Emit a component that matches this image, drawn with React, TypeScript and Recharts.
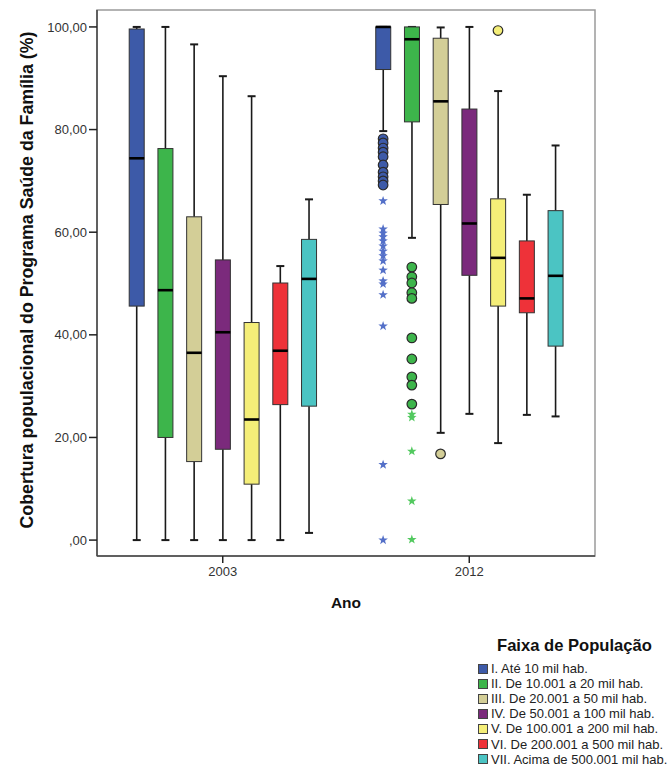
import { ComposedChart, Bar, Scatter, XAxis, YAxis, ReferenceArea } from 'recharts';

const years = ['2003', '2012'];

const faixas = [
  'I. Até 10 mil hab.',
  'II. De 10.001 a 20 mil hab.',
  'III. De 20.001 a 50 mil hab.',
  'IV. De 50.001 a 100 mil hab.',
  'V. De 100.001 a 200 mil hab.',
  'VI. De 200.001 a 500 mil hab.',
  'VII. Acima de 500.001 mil hab.',
];

const COLORS = ['#3D5AA8', '#3DB54B', '#D3CE97', '#7B2A7C', '#F4EE78', '#EE3239', '#4BC4C3'];
const STAR_COLORS = ['#5470C8', '#52C95F'];

// box statistics, one value per faixa
const min2003 = [0, 0, 0, 0, 0, 0, 1.4];
const q1_2003 = [45.6, 20.0, 15.3, 17.7, 10.9, 26.4, 26.1];
const med2003 = [74.4, 48.7, 36.5, 40.5, 23.5, 36.9, 50.9];
const q3_2003 = [99.6, 76.3, 63.0, 54.6, 42.4, 50.1, 58.6];
const max2003 = [100, 100, 96.6, 90.4, 86.5, 53.4, 66.4];

const min2012 = [79.7, 58.9, 20.9, 24.6, 18.9, 24.4, 24.1];
const q1_2012 = [91.7, 81.5, 65.4, 51.6, 45.6, 44.3, 37.8];
const med2012 = [100, 97.6, 85.5, 61.7, 55.0, 47.1, 51.5];
const q3_2012 = [100, 100, 97.8, 84.0, 66.5, 58.3, 64.2];
const max2012 = [100, 100, 99.9, 100, 87.5, 67.3, 76.9];

// outliers 2012 (circles = outliers, stars = extremes)
const circles2012 = [
  [78.2, 77.4, 76.4, 75.6, 74.7, 73.1, 71.7, 70.8, 70.0, 69.2],
  [53.2, 51.3, 50.1, 48.2, 47.1, 39.4, 35.3, 31.8, 30.2, 26.5],
  [16.8],
  [],
  [99.3],
  [],
  [],
];
const stars2012 = [
  [66.1, 60.6, 59.8, 59.1, 58.3, 57.3, 56.3, 55.4, 54.4, 52.6, 50.5, 49.9, 47.8, 41.7, 14.7, 0],
  [24.5, 23.9, 17.3, 7.6, 0.1],
];

const yTicks = [0, 20, 40, 60, 80, 100];

const slot = (g: number, s: number) => g + 1 + (s - 3) * 0.1165;

const boxRows = [
  [min2003, q1_2003, med2003, q3_2003, max2003],
  [min2012, q1_2012, med2012, q3_2012, max2012],
].flatMap(([lo, q1, med, q3, hi], g) =>
  faixas.map((_, s) => ({
    x: slot(g, s),
    lo: lo[s],
    q1: q1[s],
    med: med[s],
    q3: q3[s],
    hi: hi[s],
    color: COLORS[s],
  }))
);

const FONT = '"Liberation Sans", Arial, sans-serif';

function BoxShape(props: any) {
  const { x, y, width, height, payload } = props;
  const { lo, hi, q1, med, q3, color } = payload;
  const top = Math.min(y, y + height);
  const h = Math.abs(height);
  const k = h / (hi - lo);
  const yOf = (v: number) => top + (hi - v) * k;
  const cx = x + width / 2;
  const cap = 4;
  return (
    <g>
      <line x1={cx} x2={cx} y1={yOf(hi)} y2={yOf(q3)} stroke="#1a1a1a" strokeWidth={1.6} />
      <line x1={cx} x2={cx} y1={yOf(q1)} y2={yOf(lo)} stroke="#1a1a1a" strokeWidth={1.6} />
      <line x1={cx - cap} x2={cx + cap} y1={yOf(hi)} y2={yOf(hi)} stroke="#1a1a1a" strokeWidth={2} />
      <line x1={cx - cap} x2={cx + cap} y1={yOf(lo)} y2={yOf(lo)} stroke="#1a1a1a" strokeWidth={2} />
      <rect x={x} y={yOf(q3)} width={width} height={yOf(q1) - yOf(q3)} fill={color} stroke="#333" strokeWidth={1} />
      <line x1={x} x2={x + width} y1={yOf(med)} y2={yOf(med)} stroke="#000" strokeWidth={2.6} />
    </g>
  );
}

function starPath(cx: number, cy: number, R: number, r: number) {
  let d = '';
  for (let i = 0; i < 10; i++) {
    const rad = i % 2 === 0 ? R : r;
    const a = -Math.PI / 2 + (i * Math.PI) / 5;
    d += (i === 0 ? 'M' : 'L') + (cx + rad * Math.cos(a)).toFixed(2) + ',' + (cy + rad * Math.sin(a)).toFixed(2);
  }
  return d + 'Z';
}

const fmtY = (v: number) => (v === 0 ? ',00' : v.toFixed(2).replace('.', ','));

export default function App() {
  return (
    <div style={{ position: 'absolute', left: 0, top: 0, width: 668, height: 767, fontFamily: FONT, background: '#fff', overflow: 'hidden' }}>
      <ComposedChart
        width={668}
        height={767}
        data={boxRows}
        margin={{ top: 10, right: 73, bottom: 181, left: 0 }}
        barSize={15}
      >
        <ReferenceArea x1={0.49} x2={2.51} y1={-3.1} y2={103.3} fill="none" stroke="#9a9a9a" strokeWidth={1.5} />
        <XAxis
          type="number"
          dataKey="x"
          domain={[0.49, 2.51]}
          ticks={[1, 2]}
          allowDataOverflow
          tickFormatter={(v: number) => years[v - 1]}
          height={30}
          tickSize={7}
          tickMargin={4}
          axisLine={{ stroke: '#444', strokeWidth: 1.5 }}
          tickLine={{ stroke: '#222', strokeWidth: 1.5 }}
          tick={{ fill: '#333', fontSize: 13, fontFamily: FONT }}
          label={{ value: 'Ano', position: 'insideBottom', offset: -22, fill: '#111', fontSize: 15.5, fontWeight: 'bold', fontFamily: FONT }}
        />
        <YAxis
          type="number"
          domain={[-3.1, 103.3]}
          ticks={yTicks}
          allowDataOverflow
          width={97}
          tickFormatter={fmtY}
          tickSize={8}
          tickMargin={2}
          axisLine={{ stroke: '#444', strokeWidth: 1.5 }}
          tickLine={{ stroke: '#222', strokeWidth: 1.5 }}
          tick={{ fill: '#333', fontSize: 13, fontFamily: FONT }}
          label={({ viewBox }: any) => (
            <text
              x={33}
              y={viewBox.y + viewBox.height / 2 - 3}
              transform={`rotate(-90, 33, ${viewBox.y + viewBox.height / 2 - 3})`}
              textAnchor="middle"
              fill="#111"
              fontSize={17.8}
              fontWeight="bold"
              fontFamily={FONT}
            >
              Cobertura populacional do Programa Saúde da Família (%)
            </text>
          )}
        />
        <Bar dataKey={(d: any) => [d.lo, d.hi]} shape={BoxShape} isAnimationActive={false} />
        {circles2012.map((vals, s) =>
          vals.length ? (
            <Scatter
              key={`c${s}`}
              data={vals.map((v) => ({ x: slot(1, s), y: v }))}
              dataKey="y"
              isAnimationActive={false}
              shape={(p: any) => <circle cx={p.cx} cy={p.cy} r={4.8} fill={COLORS[s]} stroke="#2a2a2a" strokeWidth={1.2} />}
            />
          ) : null
        )}
        {stars2012.map((vals, s) => (
          <Scatter
            key={`s${s}`}
            data={vals.map((v) => ({ x: slot(1, s), y: v }))}
            dataKey="y"
            isAnimationActive={false}
            shape={(p: any) => <path d={starPath(p.cx, p.cy, 5, 2)} fill={STAR_COLORS[s]} />}
          />
        ))}
      </ComposedChart>
      <div style={{ position: 'absolute', left: 478, top: 636, width: 190 }}>
        <div style={{ fontSize: 16.6, fontWeight: 'bold', color: '#111', marginLeft: 19, marginBottom: 6, lineHeight: '19px', whiteSpace: 'nowrap' }}>
          Faixa de População
        </div>
        {faixas.map((f, s) => (
          <div key={f} style={{ display: 'flex', alignItems: 'center', height: 15.1, lineHeight: '15px', fontSize: 13, color: '#222', whiteSpace: 'nowrap' }}>
            <span style={{ display: 'inline-block', width: 10, height: 10, background: COLORS[s], border: '1px solid #444', marginRight: 3, boxSizing: 'border-box', flexShrink: 0 }} />
            {f}
          </div>
        ))}
      </div>
    </div>
  );
}
